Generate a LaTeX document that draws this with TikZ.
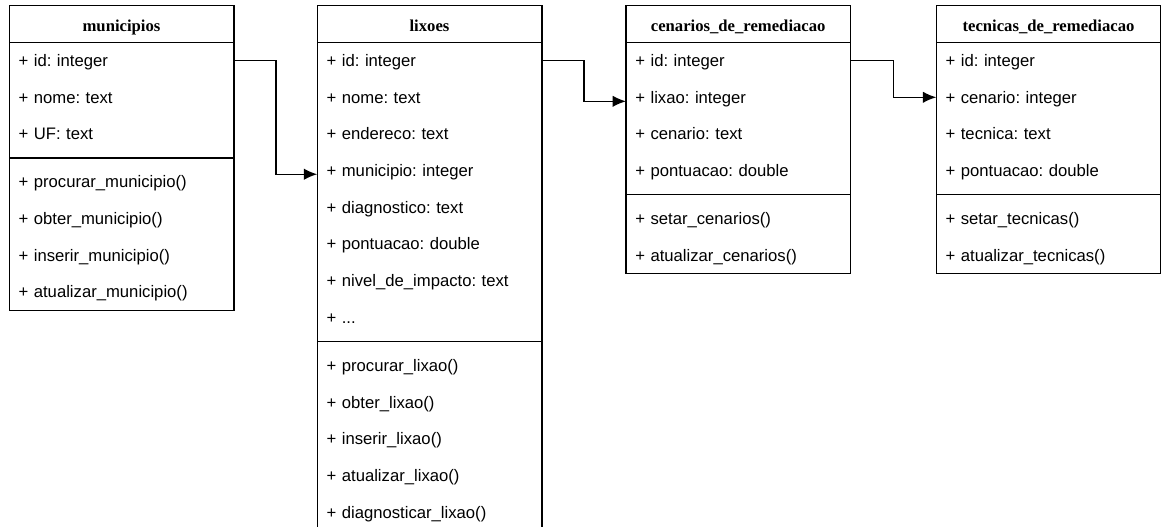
\documentclass[tikz,border=0pt]{standalone}
\usepackage{fontspec}
\setmainfont{Liberation Sans}
\newfontfamily\headfamily{Liberation Serif}
\usetikzlibrary{calc,arrows.meta}
\frenchspacing
\newcommand{\rowfont}{\fontsize{12.5pt}{15pt}\selectfont}
\newcommand{\headfont}{\headfamily\bfseries\fontsize{12.5pt}{15pt}\selectfont}
\tikzset{
  box/.style={draw,line width=1.1pt},
  head/.style={anchor=base,inner sep=0pt,font=\headfont},
  row/.style={anchor=west,minimum height=27.5pt,text width=154.9pt,inner xsep=6.75pt,
    inner ysep=0pt,text height=9pt,text depth=0pt,align=left,font=\rowfont},
  link/.style={line width=1.1pt,-{Latex[length=10pt,width=8.5pt]}}
}
\begin{document}
\begin{tikzpicture}[x=.75pt,y=-.75pt,line cap=butt]
  \useasboundingbox (0,0) rectangle (1161,527);
  \def\rh{36.67}
  % municipios
  \draw[box] (9.3,5.7) rectangle (233.8,310.3);
  \draw[box] (9.3,42.3) -- (233.8,42.3);
  \draw[box] (9.3,158) -- (233.8,158);
  \node[head] (mun) at (121.5,31.5) {municipios};
  \foreach \t [count=\i] in {+ id: integer,+ nome: text,+ UF: text}
    \node[row] (mun-\i) at (9.3,{42.3+(\i-.5)*\rh}) {\t};
  \foreach \t [count=\i from 4] in {+ procurar\_municipio(),+ obter\_municipio(),
      + inserir\_municipio(),+ atualizar\_municipio()}
    \node[row] (mun-\i) at (9.3,{163.6+(\i-3.5)*\rh}) {\t};
  % lixoes
  \draw[box] (317.3,5.7) rectangle (541.8,530.3);
  \draw[box] (317.3,42.3) -- (541.8,42.3);
  \draw[box] (317.3,341.3) -- (541.8,341.3);
  \node[head] (lix) at (429.5,31.5) {lixoes};
  \foreach \t [count=\i] in {+ id: integer,+ nome: text,+ endereco: text,+ municipio: integer,
      + diagnostico: text,+ pontuacao: double,+ nivel\_de\_impacto: text,{+ {...}}}
    \node[row] (lix-\i) at (317.3,{42.3+(\i-.5)*\rh}) {\t};
  \foreach \t [count=\i from 9] in {+ procurar\_lixao(),+ obter\_lixao(),+ inserir\_lixao(),
      + atualizar\_lixao(),+ diagnosticar\_lixao()}
    \node[row] (lix-\i) at (317.3,{347+(\i-8.5)*\rh}) {\t};
  % cenarios_de_remediacao
  \draw[box] (626,5.7) rectangle (850.5,273.6);
  \draw[box] (626,42.3) -- (850.5,42.3);
  \draw[box] (626,194.7) -- (850.5,194.7);
  \node[head] (cen) at (738.2,31.5) {cenarios\_de\_remediacao};
  \foreach \t [count=\i] in {+ id: integer,+ lixao: integer,+ cenario: text,+ pontuacao: double}
    \node[row] (cen-\i) at (626,{42.3+(\i-.5)*\rh}) {\t};
  \foreach \t [count=\i from 5] in {+ setar\_cenarios(),+ atualizar\_cenarios()}
    \node[row] (cen-\i) at (626,{200.3+(\i-4.5)*\rh}) {\t};
  % tecnicas_de_remediacao
  \draw[box] (936.3,5.7) rectangle (1160.8,273.6);
  \draw[box] (936.3,42.3) -- (1160.8,42.3);
  \draw[box] (936.3,194.7) -- (1160.8,194.7);
  \node[head] (tec) at (1048.5,31.5) {tecnicas\_de\_remediacao};
  \foreach \t [count=\i] in {+ id: integer,+ cenario: integer,+ tecnica: text,+ pontuacao: double}
    \node[row] (tec-\i) at (936.3,{42.3+(\i-.5)*\rh}) {\t};
  \foreach \t [count=\i from 5] in {+ setar\_tecnicas(),+ atualizar\_tecnicas()}
    \node[row] (tec-\i) at (936.3,{200.3+(\i-4.5)*\rh}) {\t};
  % references between the tables
  \draw[link] (mun-1.east) -| ($(mun-1.east)!.5!(lix-4.west)$) |- ([yshift=-2.7pt]lix-4.west);
  \draw[link] (lix-1.east) -| ($(lix-1.east)!.5!(cen-2.west)$) |- ([yshift=-3pt]cen-2.west);
  \draw[link] (cen-1.east) -| ($(cen-1.east)!.5!(tec-2.west)$) |- (tec-2.west);
\end{tikzpicture}
\end{document}
